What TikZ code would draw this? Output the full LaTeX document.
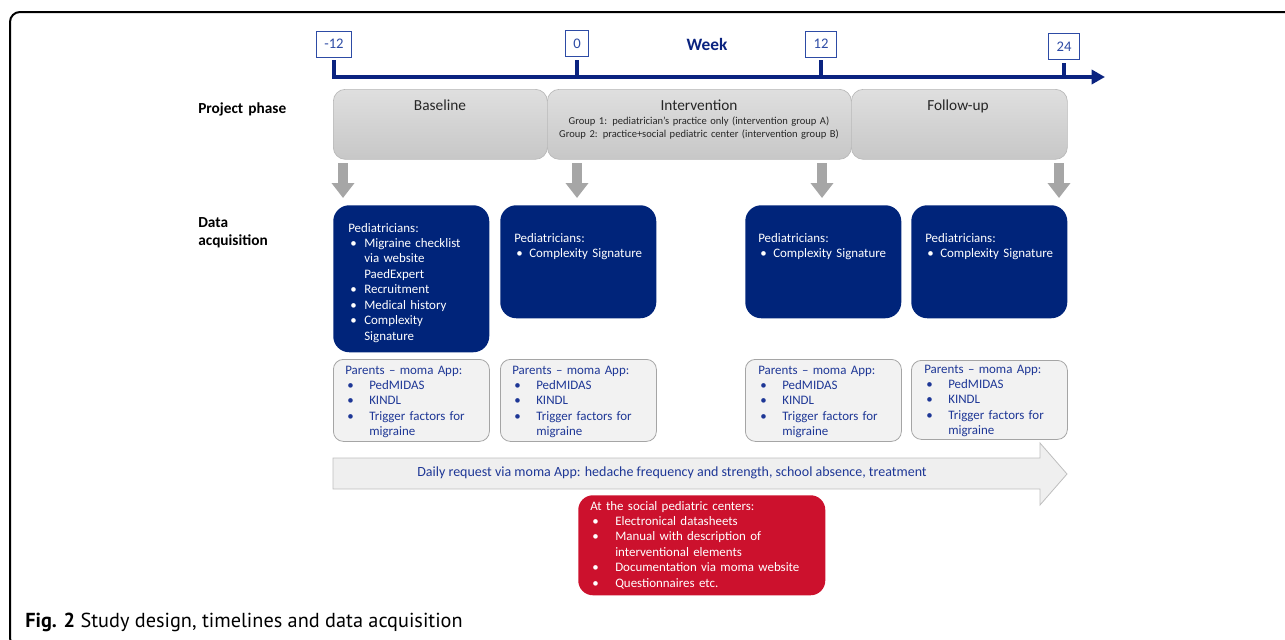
\documentclass[tikz,border=0pt]{standalone}
\usepackage{fontspec}
\setmainfont{Carlito}
\newfontfamily\capfont{PT Sans}
\usepackage{xcolor}
\usepackage{tikz}
\usetikzlibrary{arrows.meta}

\definecolor{navy}{RGB}{0,36,122}
\definecolor{axisblue}{RGB}{10,35,128}
\definecolor{weekblue}{RGB}{45,75,165}
\definecolor{appblue}{RGB}{30,55,150}
\definecolor{phasetop}{RGB}{223,223,223}
\definecolor{phasebot}{RGB}{199,199,199}
\definecolor{phaseline}{RGB}{185,185,185}
\definecolor{downgray}{RGB}{166,166,166}
\definecolor{appfill}{RGB}{242,242,242}
\definecolor{appline}{RGB}{165,165,165}
\definecolor{dailyfill}{RGB}{239,239,239}
\definecolor{dailyline}{RGB}{190,190,190}
\definecolor{centrered}{RGB}{204,17,45}

% bullet line and its continuation line
\newcommand{\bitem}[2][11.25pt]{\par\noindent\makebox[#1][l]{\hspace{1.5pt}\textbullet}#2}
\newcommand{\bcont}[2][11.25pt]{\par\noindent\hspace*{#1}#2}

\begin{document}
\begin{tikzpicture}[x=0.75pt, y=-0.75pt, font=\fontsize{9.7}{11.6}\selectfont,
    weekbox/.style={draw=weekblue, line width=0.6pt, text=weekblue, fill=white, inner xsep=6pt, inner ysep=0pt, minimum height=19.5pt, font=\fontsize{11}{13}\selectfont},
    phasebox/.style={draw=phaseline, line width=0.5pt, rounded corners=9pt, top color=phasetop, bottom color=phasebot, anchor=north west, minimum height=52.5pt, inner sep=0pt},
    phasetitle/.style={anchor=base, inner sep=0pt, text=black!85, font=\fontsize{11.5}{13.8}\selectfont},
    docbox/.style={fill=navy, rounded corners=12pt, anchor=north west, minimum width=117pt, minimum height=84.75pt, inner sep=0pt},
    doctext/.style={anchor=base west, inner sep=0pt, text=white, text width=110pt, align=left},
    appbox/.style={draw=appline, line width=0.6pt, fill=appfill, rounded corners=7.5pt, anchor=north west, minimum width=117pt, minimum height=61.5pt, inner sep=0pt},
    apptext/.style={anchor=base west, inner sep=0pt, text=appblue, text width=110pt, align=left},
    rowlabel/.style={anchor=base west, inner sep=0pt, text width=90pt, align=left, font=\fontsize{11.5}{13.5}\selectfont\bfseries},
    downarrow/.style={downgray, line width=7.5pt, -{Triangle[width=16.5pt,length=11.25pt]}}]

    \useasboundingbox (0,0) rectangle (1285,639);
    \clip (0,0) rectangle (1285,639);
    \draw[line width=1.5pt, rounded corners=7.5pt] (30,648) -- (10,648) -- (10,12) -- (1300,12);

    % time axis with the week marks
    \foreach \i/\w/\x/\y in {1/-12/334/44, 2/0/577/43.5, 3/12/821/44, 4/24/1064/46.5} {
        \node[weekbox] (wk\i) at (\x,\y) {\w};
        \coordinate (tk\i) at (\x,77);
        \draw[axisblue, line width=3pt, line cap=rect] (wk\i.south) ++(0,5) -- (tk\i);
    }
    \coordinate (axisend) at (1105,77);
    \draw[axisblue, line width=3pt, -{Triangle[width=10.5pt,length=10pt]}] (tk1) -- (axisend);
    \node[anchor=base, inner sep=0pt, text=axisblue, font=\fontsize{13}{15}\selectfont\bfseries] (week) at (707,50) {Week};

    % project phases
    \node[rowlabel] (lblphase) at (198,113) {Project phase};
    \node[phasebox, minimum width=160.5pt] (pbase) at (333,89) {};
    \node[phasebox, minimum width=228pt] (pint) at (547,89) {};
    \node[phasebox, minimum width=162pt] (pfol) at (851,89) {};
    \node[phasetitle] (pbaset) at (440,110) {Baseline};
    \node[phasetitle] (pintt) at (699,110) {Intervention};
    \node[phasetitle] (pfolt) at (958,110) {Follow-up};
    \node[anchor=base, inner sep=0pt, text=black!85, text width=225pt, align=center, font=\fontsize{7.9}{9.75}\selectfont] (pints) at (699,124)
        {Group 1: pediatrician’s practice only (intervention group A)\\Group 2: practice+social pediatric center (intervention group B)};

    \foreach \i/\x in {1/343, 2/577, 3/822, 4/1059} {
        \coordinate (a\i) at (\x,163);
        \coordinate (b\i) at (\x,198);
        \draw[downarrow] (a\i) -- (b\i);
    }

    % data acquisition
    \node[rowlabel, text width=90pt] (lblacq) at (198,227) {Data\\acquisition};

    \node[docbox, minimum height=110.25pt] (doc1) at (333,205) {};
    \node[docbox] (doc2) at (500,205) {};
    \node[docbox] (doc3) at (745,205) {};
    \node[docbox] (doc4) at (911,205) {};
    \node[doctext] (doct1) at (348,232) {Pediatricians:\bitem[12pt]{Migraine checklist}\bcont[12pt]{via website}\bcont[12pt]{PaedExpert}\bitem[12pt]{Recruitment}\bitem[12pt]{Medical history}\bitem[12pt]{Complexity}\bcont[12pt]{Signature}};
    \foreach \i/\x in {2/514, 3/758, 4/925}
        \node[doctext] (doct\i) at (\x,242) {Pediatricians:\bitem{Complexity Signature}};

    \foreach \i/\x in {1/333, 2/500, 3/745}
        \node[appbox] (app\i) at (\x,359) {};
    \node[appbox, minimum height=59.25pt] (app4) at (911,360) {};
    \foreach \i/\x/\y in {1/345/374, 2/512/374, 3/758/374, 4/924/373}
        \node[apptext] (appt\i) at (\x,\y) {Parents -- moma App:\bitem[18pt]{PedMIDAS}\bitem[18pt]{KINDL}\bitem[18pt]{Trigger factors for}\bcont[18pt]{migraine}};

    % daily request along the whole study
    \draw[draw=dailyline, fill=dailyfill, line width=0.6pt] (333,458) -- (1040,458) -- (1040,443) -- (1067,474) -- (1040,505) -- (1040,489) -- (333,489) -- cycle;
    \node[text=appblue, inner sep=0pt, font=\fontsize{10.5}{12.6}\selectfont] (daily) at (672,473) {Daily request via moma App: hedache frequency and strength, school absence, treatment};

    \node[docbox, fill=centrered, minimum width=185.25pt, minimum height=75pt, rounded corners=11pt] (spz) at (578,495) {};
    \node[doctext, text width=180pt] (spzt) at (590,510) {At the social pediatric centers:\bitem[18.75pt]{Electronical datasheets}\bitem[18.75pt]{Manual with description of}\bcont[18.75pt]{interventional elements}\bitem[18.75pt]{Documentation via moma website}\bitem[18.75pt]{Questionnaires etc.}};

    \node[anchor=base west, inner sep=0pt, font=\capfont\fontsize{15.2}{18}\selectfont] (cap) at (25,627) {\textbf{Fig. 2} Study design, timelines and data acquisition};
\end{tikzpicture}
\end{document}
